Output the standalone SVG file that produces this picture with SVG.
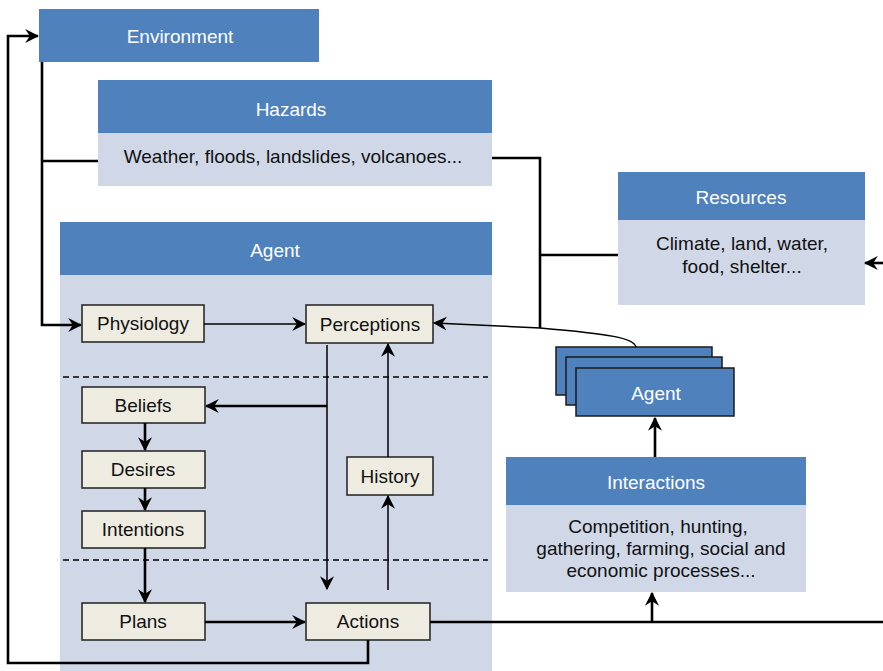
<svg xmlns="http://www.w3.org/2000/svg" width="883" height="671" viewBox="0 0 883 671">
<style>
.hd{fill:#4f81bd}
.bd{fill:#d0d8e8}
.sm{fill:#eeece1;stroke:#2b2b2b;stroke-width:1.6}
.wt{font-family:"Liberation Sans",Arial,sans-serif;font-size:19px;fill:#fff;text-anchor:middle}
.bt{font-family:"Liberation Sans",Arial,sans-serif;font-size:19px;fill:#111;text-anchor:middle}
.thick{fill:none;stroke:#000;stroke-width:2.6}
.thin{fill:none;stroke:#000;stroke-width:1.5}
.dash{fill:none;stroke:#000;stroke-width:1.5;stroke-dasharray:6 4}
</style>
<defs>
<marker id="ar" viewBox="0 0 12 12" refX="11" refY="6" markerWidth="14" markerHeight="14" markerUnits="userSpaceOnUse" orient="auto">
<path d="M0,0 L12,6 L0,12 L4,6 z" fill="#000"/>
</marker>
</defs>
<rect width="883" height="671" fill="#fff"/>

<g id="environment">
<rect class="hd" x="39" y="9" width="280" height="53"/>
<text class="wt" x="180" y="43">Environment</text>
</g>

<g id="hazards">
<rect class="hd" x="98" y="80" width="394" height="53"/>
<rect class="bd" x="98" y="133" width="394" height="53"/>
<text class="wt" x="291" y="116">Hazards</text>
<text class="bt" x="293" y="163">Weather, floods, landslides, volcanoes...</text>
</g>

<g id="resources">
<rect class="hd" x="618" y="172" width="247" height="48"/>
<rect class="bd" x="618" y="220" width="247" height="85"/>
<text class="wt" x="741" y="204">Resources</text>
<text class="bt" x="742" y="250">Climate, land, water,</text>
<text class="bt" x="742" y="273">food, shelter...</text>
</g>

<g id="agent">
<rect class="hd" x="60" y="222" width="432" height="53"/>
<rect class="bd" x="60" y="275" width="432" height="396"/>
<text class="wt" x="275" y="257">Agent</text>
<line class="dash" x1="63" y1="377" x2="488" y2="377"/>
<line class="dash" x1="63" y1="560" x2="488" y2="560"/>
</g>

<g id="physiology">
<rect class="sm" x="82" y="305" width="122" height="37"/>
<text class="bt" x="143" y="330">Physiology</text>
</g>
<g id="perceptions">
<rect class="sm" x="306" y="305" width="127" height="38"/>
<text class="bt" x="370" y="331">Perceptions</text>
</g>
<g id="beliefs">
<rect class="sm" x="82" y="387" width="123" height="36"/>
<text class="bt" x="143" y="412">Beliefs</text>
</g>
<g id="desires">
<rect class="sm" x="82" y="451" width="123" height="37"/>
<text class="bt" x="143" y="476">Desires</text>
</g>
<g id="intentions">
<rect class="sm" x="82" y="511" width="123" height="37"/>
<text class="bt" x="143" y="536">Intentions</text>
</g>
<g id="history">
<rect class="sm" x="347" y="457" width="86" height="38"/>
<text class="bt" x="390" y="483">History</text>
</g>
<g id="plans">
<rect class="sm" x="82" y="603" width="123" height="37"/>
<text class="bt" x="143" y="628">Plans</text>
</g>
<g id="actions">
<rect class="sm" x="306" y="603" width="124" height="37"/>
<text class="bt" x="368" y="628">Actions</text>
</g>

<g id="other-agents">
<rect class="hd" x="556" y="347" width="156" height="48" stroke="#1a1a1a" stroke-width="1.5"/>
<rect class="hd" x="566" y="357" width="156" height="48" stroke="#1a1a1a" stroke-width="1.5"/>
<rect class="hd" x="576" y="368" width="158" height="48" stroke="#1a1a1a" stroke-width="1.5"/>
<text class="wt" x="656" y="400">Agent</text>
</g>

<g id="interactions">
<rect class="hd" x="506" y="457" width="300" height="48"/>
<rect class="bd" x="506" y="505" width="300" height="87"/>
<text class="wt" x="656" y="489">Interactions</text>
<text class="bt" x="658" y="533">Competition, hunting,</text>
<text class="bt" x="661" y="555">gathering, farming, social and</text>
<text class="bt" x="661" y="577">economic processes...</text>
</g>

<g id="connectors">
<polyline class="thick" points="368,640 368,663 8,663 8,36 38,36" marker-end="url(#ar)"/>
<polyline class="thick" points="42,62 42,325 81,325" marker-end="url(#ar)"/>
<line class="thick" x1="42" y1="161" x2="98" y2="161"/>
<polyline class="thick" points="492,158 540,158 540,328"/>
<line class="thick" x1="540" y1="255" x2="618" y2="255"/>
<path class="thin" d="M636,347 C634,338 610,334 540,328 L434,323" marker-end="url(#ar)"/>
<line class="thin" x1="204" y1="324" x2="305" y2="324" marker-end="url(#ar)"/>
<line class="thin" x1="327" y1="345" x2="327" y2="589" marker-end="url(#ar)"/>
<line class="thick" x1="327" y1="406" x2="206" y2="406" marker-end="url(#ar)"/>
<line class="thick" x1="145" y1="423" x2="145" y2="450" marker-end="url(#ar)"/>
<line class="thick" x1="145" y1="488" x2="145" y2="510" marker-end="url(#ar)"/>
<line class="thick" x1="145" y1="548" x2="145" y2="602" marker-end="url(#ar)"/>
<line class="thin" x1="388" y1="590" x2="388" y2="496" marker-end="url(#ar)"/>
<line class="thin" x1="388" y1="457" x2="388" y2="344" marker-end="url(#ar)"/>
<line class="thick" x1="205" y1="622" x2="305" y2="622" marker-end="url(#ar)"/>
<line class="thick" x1="430" y1="622" x2="883" y2="622"/>
<line class="thick" x1="652" y1="622" x2="652" y2="593" marker-end="url(#ar)"/>
<line class="thick" x1="655" y1="457" x2="655" y2="418" marker-end="url(#ar)"/>
<line class="thick" x1="883" y1="263" x2="865" y2="263" marker-end="url(#ar)"/>
</g>
</svg>
